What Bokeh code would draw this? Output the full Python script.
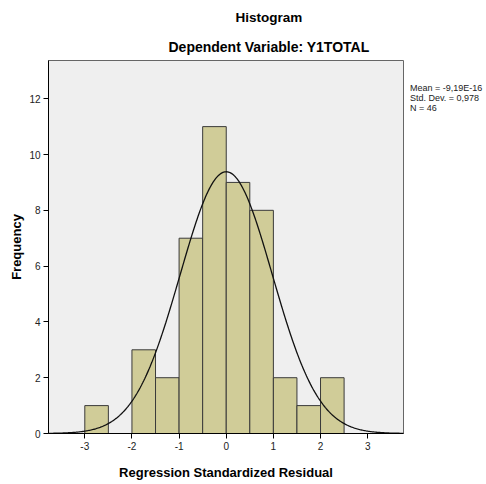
import numpy as np
from bokeh.plotting import figure
from bokeh.models import Range1d, FixedTicker, Title, Legend, LegendItem
from bokeh.embed import file_html
from bokeh.resources import INLINE

bin_edges = [-3.0, -2.5, -2.0, -1.5, -1.0, -0.5, 0.0, 0.5, 1.0, 1.5, 2.0, 2.5]
counts = [1, 0, 3, 2, 7, 11, 9, 8, 2, 1, 2]
mean_val = -9.19e-16
std_val = 0.978
n_val = 46
x_ticks = [-3, -2, -1, 0, 1, 2, 3]
y_ticks = [0, 2, 4, 6, 8, 10, 12]
stats_lines = ["Mean = -9,19E-16", "Std. Dev. = 0,978", "N = 46"]

FONT = "Liberation Sans"

p = figure(frame_width=355, frame_height=373,
           min_border_left=48, min_border_right=83, min_border_top=60, min_border_bottom=51,
           x_range=Range1d(-3.77, 3.76), y_range=Range1d(0, 13.37),
           output_backend="svg", toolbar_location=None)

p.background_fill_color = "#efefef"
p.border_fill_color = "white"
p.outline_line_color = "#666666"
p.outline_line_width = 1
p.grid.visible = False

left = bin_edges[:-1]
right = bin_edges[1:]
p.quad(left=left, right=right, bottom=[0] * len(counts), top=counts,
       fill_color="#d0cc98", line_color="#3a3a3a", line_width=1)

binw = bin_edges[1] - bin_edges[0]
xs = np.linspace(-3.77, 3.76, 400)
ys = n_val * binw / (std_val * np.sqrt(2 * np.pi)) * np.exp(-0.5 * ((xs - mean_val) / std_val) ** 2)
p.line(xs, ys, line_color="#111111", line_width=1.3)

for ax in (p.xaxis, p.yaxis):
    ax.axis_line_color = "black"
    ax.major_tick_line_color = "black"
    ax.minor_tick_line_color = None
    ax.major_tick_in = 0
    ax.major_tick_out = 5
    ax.major_label_text_font = FONT
    ax.major_label_text_font_size = "10px"
    ax.major_label_text_color = "#222222"
    ax.major_label_standoff = 3
    ax.axis_label_text_font = FONT
    ax.axis_label_text_font_style = "bold"
    ax.axis_label_text_font_size = "13px"
    ax.axis_label_text_color = "black"
p.xaxis.ticker = FixedTicker(ticks=x_ticks)
p.yaxis.ticker = FixedTicker(ticks=y_ticks)
p.xaxis.major_label_overrides = {t: str(t) for t in x_ticks}
p.xaxis.axis_label = "Regression Standardized Residual"
p.yaxis.axis_label = "Frequency"
p.xaxis.axis_label_standoff = 12
p.yaxis.axis_label_standoff = 2

p.add_layout(Title(text="Dependent Variable: Y1TOTAL", align="left", offset=120,
                   text_font=FONT, text_font_style="bold", text_font_size="14px",
                   text_color="black", standoff=12), "above")
p.add_layout(Title(text="Histogram", align="left", offset=187,
                   text_font=FONT, text_font_style="bold", text_font_size="13.5px",
                   text_color="black", standoff=12), "above")

dummies = [p.scatter([], [], alpha=0) for _ in stats_lines]
legend = Legend(items=[LegendItem(label=s, renderers=[r]) for s, r in zip(stats_lines, dummies)],
                location=(7, 320), glyph_width=0, glyph_height=10, label_height=10,
                label_standoff=0, spacing=0, padding=0, margin=0,
                label_text_font=FONT, label_text_font_size="9px", label_text_color="#222222",
                border_line_color=None, background_fill_alpha=0)
p.add_layout(legend, "right")

open("out.html", "w").write(file_html(p, INLINE))
